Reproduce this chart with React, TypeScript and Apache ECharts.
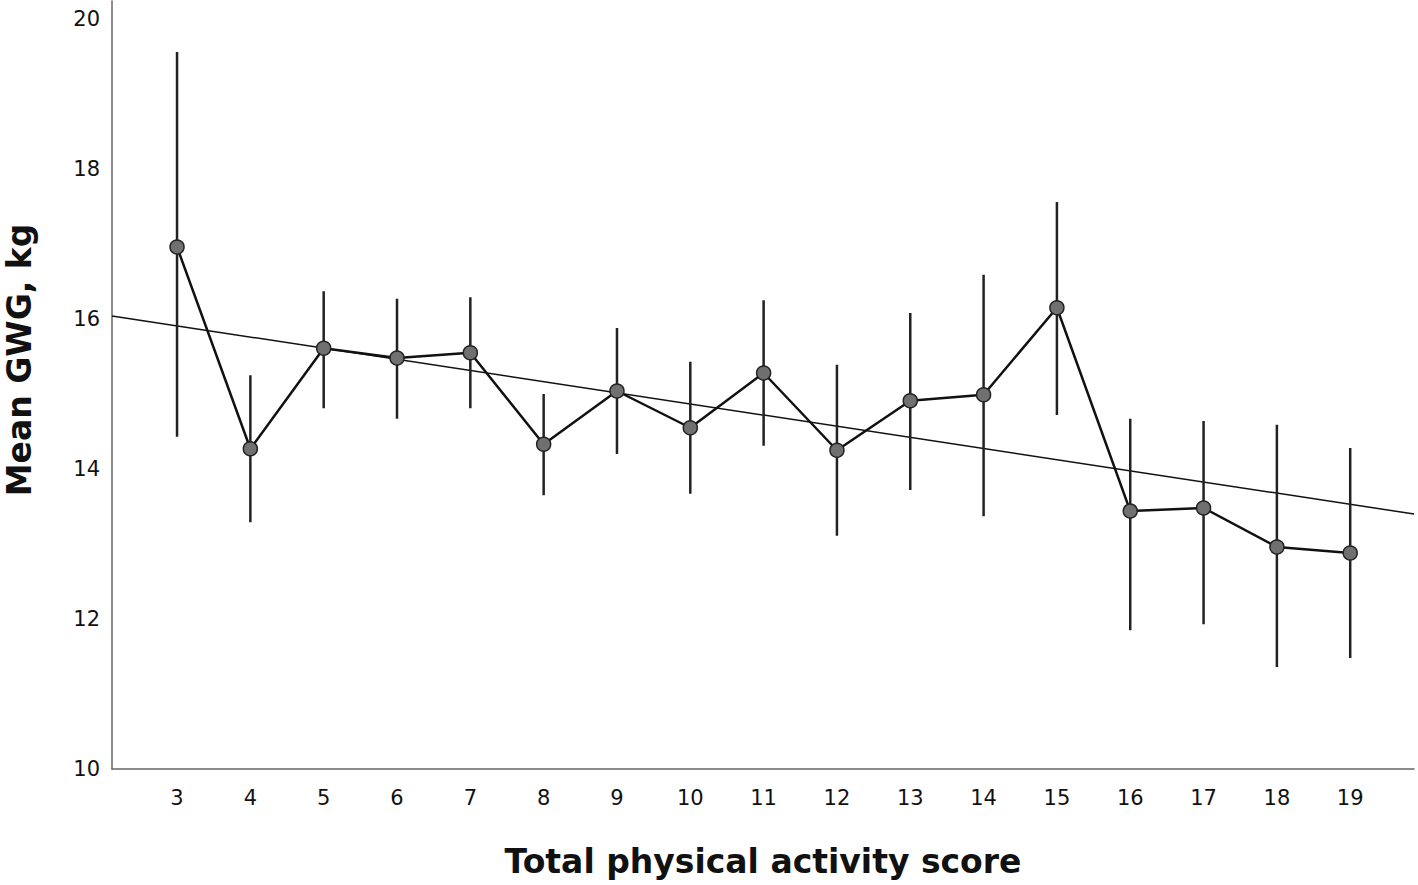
import React, { useEffect, useRef } from "react";
import * as echarts from "echarts";

const scores = [3, 4, 5, 6, 7, 8, 9, 10, 11, 12, 13, 14, 15, 16, 17, 18, 19];
const meanGWG = [16.96, 14.27, 15.61, 15.48, 15.55, 14.33, 15.04, 14.55, 15.28, 14.25, 14.91, 14.99, 16.15, 13.44, 13.48, 12.96, 12.88];
const ciLow = [14.43, 13.29, 14.81, 14.67, 14.81, 13.65, 14.2, 13.67, 14.31, 13.11, 13.72, 13.37, 14.72, 11.85, 11.93, 11.36, 11.48];
const ciHigh = [19.56, 15.25, 16.37, 16.27, 16.29, 15.0, 15.88, 15.43, 16.25, 15.39, 16.08, 16.59, 17.56, 14.67, 14.64, 14.59, 14.28];
const fitX = [2.113, 19.87];
const fitY = [16.04, 13.4];
const yTicks = [10, 12, 14, 16, 18, 20];

export default function App() {
  const ref = useRef<HTMLDivElement>(null);
  useEffect(() => {
    if (!ref.current) return;
    const chart = echarts.init(ref.current, null, { renderer: "svg" });
    const font = "DejaVu Sans";
    chart.setOption({
      animation: false,
      backgroundColor: "#ffffff",
      grid: { left: 112, right: 4, top: 1, bottom: 116, containLabel: false, outerBoundsMode: "none" },
      graphic: [
        {
          type: "text",
          x: 19,
          y: 360,
          rotation: Math.PI / 2,
          style: {
            text: "Mean GWG, kg",
            fontFamily: font,
            fontWeight: "bold",
            fontSize: 33,
            fill: "#111",
            align: "center",
            verticalAlign: "middle",
          },
        },
      ],
      xAxis: {
        type: "value",
        min: 2.113,
        max: 19.87,
        name: "Total physical activity score",
        nameLocation: "middle",
        nameGap: 76,
        nameTextStyle: { fontFamily: font, fontWeight: "bold", fontSize: 33, color: "#111" },
        axisLine: { show: true, lineStyle: { color: "#666", width: 1.5 } },
        axisTick: { show: false },
        splitLine: { show: false },
        axisLabel: {
          customValues: scores,
          fontFamily: font,
          fontSize: 21,
          color: "#111",
          margin: 18,
        },
      },
      yAxis: {
        type: "value",
        min: 10,
        max: 20.24,
        axisLine: { show: true, lineStyle: { color: "#666", width: 1.5 } },
        axisTick: { show: false },
        splitLine: { show: false },
        axisLabel: {
          customValues: yTicks,
          fontFamily: font,
          fontSize: 21,
          color: "#111",
          margin: 12,
        },
      },
      series: [
        {
          type: "line",
          data: fitX.map((x, i) => [x, fitY[i]]),
          symbol: "none",
          lineStyle: { color: "#111", width: 1.5 },
          z: 1,
        },
        {
          type: "custom",
          data: scores.map((s, i) => [s, ciLow[i], ciHigh[i]]),
          renderItem: (params: any, api: any) => {
            const x = api.value(0);
            const lo = api.coord([x, api.value(1)]);
            const hi = api.coord([x, api.value(2)]);
            return {
              type: "line",
              shape: { x1: lo[0], y1: lo[1], x2: hi[0], y2: hi[1] },
              style: { stroke: "#222", lineWidth: 2.5 },
            };
          },
          z: 2,
        },
        {
          type: "line",
          data: scores.map((s, i) => [s, meanGWG[i]]),
          symbol: "circle",
          symbolSize: 14,
          lineStyle: { color: "#111", width: 2.5 },
          itemStyle: { color: "#707070", borderColor: "#222", borderWidth: 1.5 },
          z: 3,
        },
      ],
    });
    return () => chart.dispose();
  }, []);
  return (
    <div
      ref={ref}
      style={{ position: "fixed", left: 0, top: 0, width: 1418, height: 885, background: "#fff" }}
    />
  );
}
